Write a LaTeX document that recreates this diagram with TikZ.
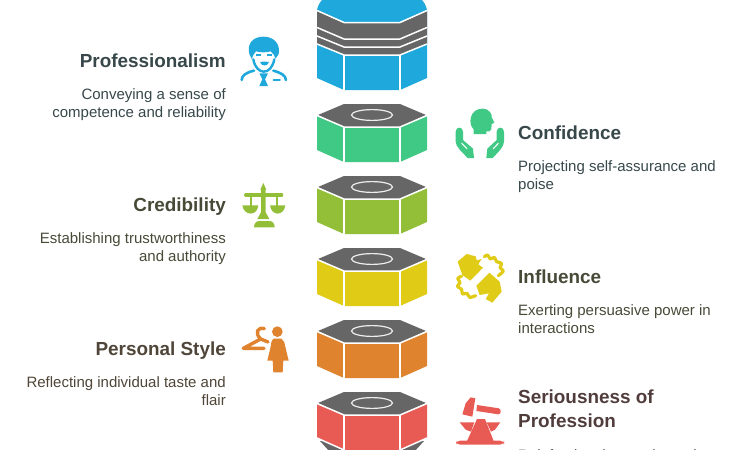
\documentclass[tikz,border=0pt]{standalone}
\usepackage{fontspec}
\setmainfont{Liberation Sans}
\definecolor{hexgray}{HTML}{666666}
\definecolor{cblue}{HTML}{1EA8DB}
\definecolor{cgreen}{HTML}{3FC985}
\definecolor{colive}{HTML}{93BF38}
\definecolor{cyellow}{HTML}{E0CC16}
\definecolor{corange}{HTML}{E0832E}
\definecolor{cred}{HTML}{E85A54}
\definecolor{tslate}{HTML}{37474A}
\definecolor{tolive}{HTML}{464A37}
\definecolor{tbrown}{HTML}{4F4538}
\definecolor{tred}{HTML}{513C3C}
\tikzset{
  x=1pt,y=-1pt,
  title/.style={font=\bfseries\fontsize{18.9}{24}\selectfont,inner sep=0pt},
  body/.style={font=\fontsize{15}{18}\selectfont,inner sep=0pt},
  edge/.style={white,line width=1.5pt,line join=miter},
  oval/.style={draw=white!93!black,line width=1.2pt},
  zoomed/.style={shift={#1},scale=1/3},
  stroke/.style={line cap=round,line join=round},
}
\newcommand{\nutshape}[2]{%
  \begin{scope}[yshift=-#1pt]
  \fill[#2] (317,12) -- (344,23) -- (400,23) -- (427,12) -- (427,46) -- (400,58) -- (344,58) -- (317,46) -- cycle;
  \fill[hexgray] (344,0) -- (400,0) -- (426,11) -- (400,23) -- (344,23) -- (318,11) -- cycle;
  \draw[edge] (317,11.5) -- (344,23) -- (400,23) -- (427,11.5);
  \draw[edge] (344,23) -- (344,59);
  \draw[edge] (400,23) -- (400,59);
  \draw[oval] (372,11) ellipse (20.5 and 5.4);
  \end{scope}}
\begin{document}
\begin{tikzpicture}
\useasboundingbox (0,0) rectangle (756,450);
\begin{scope}
\clip (0,0) rectangle (756,450);
% bottom partial nut
\fill[hexgray] (320,441) -- (330,452) -- (414,452) -- (424,441) -- cycle;
% blue stack
\fill[cblue] (317,10) .. controls (318,5) and (320,2) .. (323,-1) -- (421,-1) .. controls (424,2) and (426,5) .. (427,10) -- (427,78) -- (400,90) -- (344,90) -- (317,78) -- cycle;
\fill[hexgray] (317,11) -- (344,23) -- (400,23) -- (427,11) -- (427,44) -- (400,55) -- (344,55) -- (317,44) -- cycle;
\draw[edge] (317,10.5) -- (344,22.5) -- (400,22.5) -- (427,10.5);
\draw[edge] (317,27.5) -- (344,39) -- (400,39) -- (427,27.5);
\draw[edge] (317,36) -- (344,47) -- (400,47) -- (427,36);
\draw[edge] (317,44) -- (344,55) -- (400,55) -- (427,44);
\draw[edge] (344,55) -- (344,91);
\draw[edge] (400,55) -- (400,91);
\nutshape{104}{cgreen}
\nutshape{176}{colive}
\nutshape{248}{cyellow}
\nutshape{320}{corange}
\nutshape{392}{cred}
\draw[edge] (317,438) -- (344,450);
\draw[edge] (400,450) -- (427,438);
\node[body,text=tred,anchor=north west,align=left] (b6) at (518,449) {Reinforcing the gravity and};
\end{scope}
% Icon: person
\begin{scope}[zoomed={(230,30)}]
\fill[cblue] (58,72) .. controls (50,40) and (70,20) .. (100,20) .. controls (132,20) and (152,42) .. (146,72) -- (137,86) .. controls (135,76) and (128,70) .. (122,64) .. controls (110,68) and (90,68) .. (78,64) .. controls (72,70) and (68,76) .. (66,88) -- cycle;
\draw[cblue,line width=2.4pt,stroke] (70,88) .. controls (74,112) and (88,125) .. (101,125) .. controls (116,125) and (128,112) .. (133,88);
\fill[cblue] (78,72) rectangle (92,79);
\fill[cblue] (111,72) rectangle (125,79);
\fill[cblue] (90,96) .. controls (98,94) and (108,94) .. (117,96) .. controls (114,110) and (94,110) .. (90,96) -- cycle;
\draw[cblue,line width=2.6pt,stroke] (35,150) .. controls (35,136) and (50,127) .. (72,122);
\draw[cblue,line width=2.6pt,stroke] (130,122) .. controls (150,127) and (168,136) .. (168,150);
\fill[cblue] (88,130) -- (114,130) -- (105,148) -- (114,168) -- (88,168) -- (97,148) -- cycle;
\draw[cblue,line width=2.4pt,stroke] (131,150) -- (149,150);
\end{scope}
% Icon: head and hands
\begin{scope}[zoomed={(445,100)}]
\fill[cgreen] (86,102) -- (86,88) .. controls (68,72) and (74,26) .. (112,26) .. controls (134,26) and (142,44) .. (140,52) -- (148,68) -- (140,72) -- (139,88) .. controls (138,95) and (130,95) .. (124,94) -- (124,102) -- cycle;
\fill[cgreen] (32,95) .. controls (32,79) and (54,79) .. (54,95) -- (54,120) -- (84,146) -- (87,174) -- (68,174) .. controls (50,155) and (32,140) .. (32,125) -- cycle;
\fill[cgreen] (177,95) .. controls (177,79) and (155,79) .. (155,95) -- (155,120) -- (127,146) -- (124,174) -- (143,174) .. controls (161,155) and (177,140) .. (177,125) -- cycle;
\draw[white,line width=1.1pt,stroke] (50,130) -- (66,146);
\draw[white,line width=1.1pt,stroke] (160,130) -- (145,146);
\end{scope}
% Icon: scales
\begin{scope}[zoomed={(230,175)}]
\fill[colive] (100,24) -- (109,44) -- (107,44) -- (107,112) -- (118,132) -- (82,132) -- (93,112) -- (93,44) -- (91,44) -- cycle;
\draw[colive,line width=3.2pt,stroke] (47,60) -- (155,60);
\draw[colive,line width=2pt] (62,60) -- (62,92);
\draw[colive,line width=2pt] (142,60) -- (142,92);
\fill[colive] (37,91) -- (85,91) .. controls (82,124) and (42,124) .. (37,91) -- cycle;
\fill[colive] (120,91) -- (166,91) .. controls (162,124) and (124,124) .. (120,91) -- cycle;
\fill[colive] (72,157) .. controls (72,146) and (78,138) .. (88,138) -- (118,138) .. controls (128,138) and (134,146) .. (134,157) -- cycle;
\end{scope}
% Icon: squares with wavy lines
\begin{scope}[zoomed={(445,245)}]
\fill[cyellow] (38,50) -- (65,27) -- (92,34) -- (95,46) -- (110,42) -- (100,58) -- (114,68) -- (76,107) -- (52,90) -- cycle;
\fill[cyellow] (133,83) -- (164,110) -- (170,140) -- (142,173) -- (122,162) -- (132,145) -- (104,150) -- (94,122) -- cycle;
\draw[cyellow,line width=3.2pt,stroke] plot[smooth] coordinates {(118,35) (128,30) (136,42) (148,37) (155,50) (170,55) (165,68) (175,78) (160,92)};
\draw[cyellow,line width=3.2pt,stroke] plot[smooth] coordinates {(50,94) (38,100) (45,113) (37,124) (50,133) (52,147) (66,145) (74,157) (92,152)};
\end{scope}
% Icon: hanger and person
\begin{scope}[zoomed={(230,320)}]
\fill[corange] (142,35) circle (16);
\fill[corange] (130,56) -- (154,56) .. controls (162,60) and (165,70) .. (166,80) -- (176,122) -- (160,122) -- (158,157) -- (130,157) -- (128,122) -- (112,122) -- (122,80) .. controls (123,70) and (124,60) .. (130,56) -- cycle;
\draw[corange,line width=3.4pt,stroke] (102,85) -- (40,85) -- (92,57) -- (114,66);
\draw[corange,line width=3.4pt,stroke] (92,57) .. controls (72,38) and (84,20) .. (103,26);
\end{scope}
% Icon: hammer and cone
\begin{scope}[zoomed={(445,385)}]
\fill[cred] (62,55) -- (77,37) -- (91,40) -- (82,95) -- (52,88) -- cycle;
\fill[cred] (96,60) -- (162,70) .. controls (169,72) and (169,88) .. (160,88) -- (94,78) -- cycle;
\fill[cred] (96,102) -- (120,102) -- (146,168) -- (66,168) -- cycle;
\fill[cred] (44,112) -- (88,112) -- (78,140) -- (62,134) -- cycle;
\fill[cred] (125,112) -- (166,112) -- (150,134) -- (138,140) -- cycle;
\fill[cred,rounded corners=4pt] (33,167) rectangle (177,179);
\end{scope}
% Texts
\node[title,text=tslate,anchor=base east] (t1) at (226,67) {Professionalism};
\node[body,text=tslate,anchor=north east,align=right] (b1) at (226,88) {Conveying a sense of\\competence and reliability};
\node[title,text=tslate,anchor=base west] (t2) at (518,139) {Confidence};
\node[body,text=tslate,anchor=north west,align=left] (b2) at (518,160) {Projecting self-assurance and\\poise};
\node[title,text=tolive,anchor=base east] (t3) at (226,211) {Credibility};
\node[body,text=tolive,anchor=north east,align=right] (b3) at (226,232) {Establishing trustworthiness\\and authority};
\node[title,text=tolive,anchor=base west] (t4) at (518,283) {Influence};
\node[body,text=tolive,anchor=north west,align=left] (b4) at (518,304) {Exerting persuasive power in\\interactions};
\node[title,text=tbrown,anchor=base east] (t5) at (226,355) {Personal Style};
\node[body,text=tbrown,anchor=north east,align=right] (b5) at (226,376) {Reflecting individual taste and\\flair};
\node[title,text=tred,anchor=north west,align=left] (t6) at (518,390) {Seriousness of\\Profession};
\end{tikzpicture}
\end{document}
